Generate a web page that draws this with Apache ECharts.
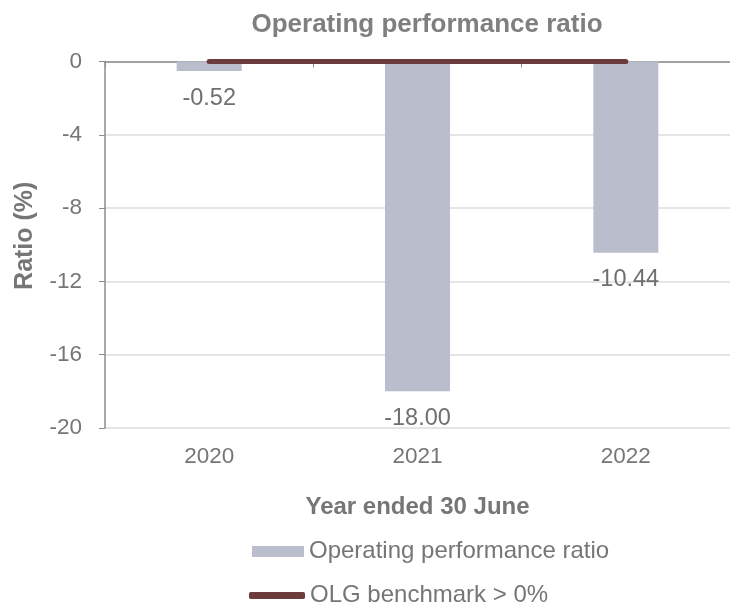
<!DOCTYPE html>
<html>
  <head>
    <meta charset="UTF-8">
    <title>Operating performance ratio</title>
    <style type="text/css">
      body { margin: 0; padding: 0; background-color: white; }
      #main { width: 730px; height: 608px; }
    </style>
  </head>
  <body>
    <div id="main"></div>
    <script src="https://cdn.jsdelivr.net/npm/echarts@6/dist/echarts.min.js"></script>
    <script type="text/javascript">
      var years = ['2020', '2021', '2022'];
      var ratio = [-0.52, -18.00, -10.44];
      var benchmark = [0, 0, 0];
      var yTicks = [0, -4, -8, -12, -16, -20];

      var grey = '#767676';
      var font = 'Liberation Sans, Arial, sans-serif';

      var myChart = echarts.init(document.getElementById('main'));
      var option = {
        backgroundColor: 'white',
        textStyle: { fontFamily: font },
        title: {
          text: 'Operating performance ratio',
          left: 422, top: 7, textAlign: 'center',
          textStyle: { fontSize: 26, fontWeight: 'bold', color: '#7f7f7f', fontFamily: font }
        },
        grid: { left: 105, right: -5, top: 61.5, bottom: 180 },
        legend: [{
          data: [{ name: 'Operating performance ratio', icon: 'rect' }],
          left: 247, top: 534.5, itemWidth: 52, itemHeight: 11,
          textStyle: { fontSize: 24, color: grey, lineHeight: 24 }
        }, {
          data: [{ name: 'OLG benchmark > 0%', icon: 'roundRect' }],
          left: 244, top: 578.5, itemWidth: 56, itemHeight: 7,
          textStyle: { fontSize: 24, color: grey, lineHeight: 24 }
        }],
        xAxis: [{
          type: 'category',
          data: years,
          position: 'bottom',
          axisLine: { show: false, onZero: false },
          axisTick: { show: false },
          axisLabel: { fontSize: 22.5, color: grey, margin: 17 },
          name: 'Year ended 30 June',
          nameLocation: 'middle',
          nameGap: 67,
          nameTextStyle: { fontSize: 24, fontWeight: 'bold', color: grey }
        }, {
          type: 'category',
          data: years,
          position: 'top',
          axisLine: { show: true, onZero: false, lineStyle: { color: '#8c8c8c', width: 1.5 } },
          axisTick: { show: true, inside: true, length: 6, lineStyle: { color: '#8c8c8c' } },
          axisLabel: { show: false }
        }],
        yAxis: {
          type: 'value',
          min: yTicks[yTicks.length - 1],
          max: yTicks[0],
          interval: 4,
          name: 'Ratio (%)',
          nameLocation: 'middle',
          nameGap: 67,
          nameTextStyle: { fontSize: 25, fontWeight: 'bold', color: grey, padding: [0, 0, 0, 18] },
          axisLine: { show: true, lineStyle: { color: '#8c8c8c', width: 1.5 } },
          axisTick: { show: true, length: 6, lineStyle: { color: '#8c8c8c' } },
          axisLabel: { fontSize: 22.5, color: grey, margin: 23 },
          splitLine: { lineStyle: { color: '#dcdcdc', width: 1.5 } }
        },
        series: [{
          name: 'Operating performance ratio',
          type: 'bar',
          data: ratio,
          barWidth: 65,
          itemStyle: { color: '#babdcc' },
          label: {
            show: true,
            position: 'bottom',
            distance: 15,
            fontSize: 23.5,
            color: '#6f6f6f',
            formatter: function (p) { return p.value.toFixed(2); }
          }
        }, {
          name: 'OLG benchmark > 0%',
          type: 'line',
          data: benchmark,
          showSymbol: false,
          itemStyle: { color: '#6c3b3b' },
          lineStyle: { color: '#6c3b3b', width: 5, cap: 'round' }
        }]
      };
      myChart.setOption(option);
    </script>
  </body>
</html>
